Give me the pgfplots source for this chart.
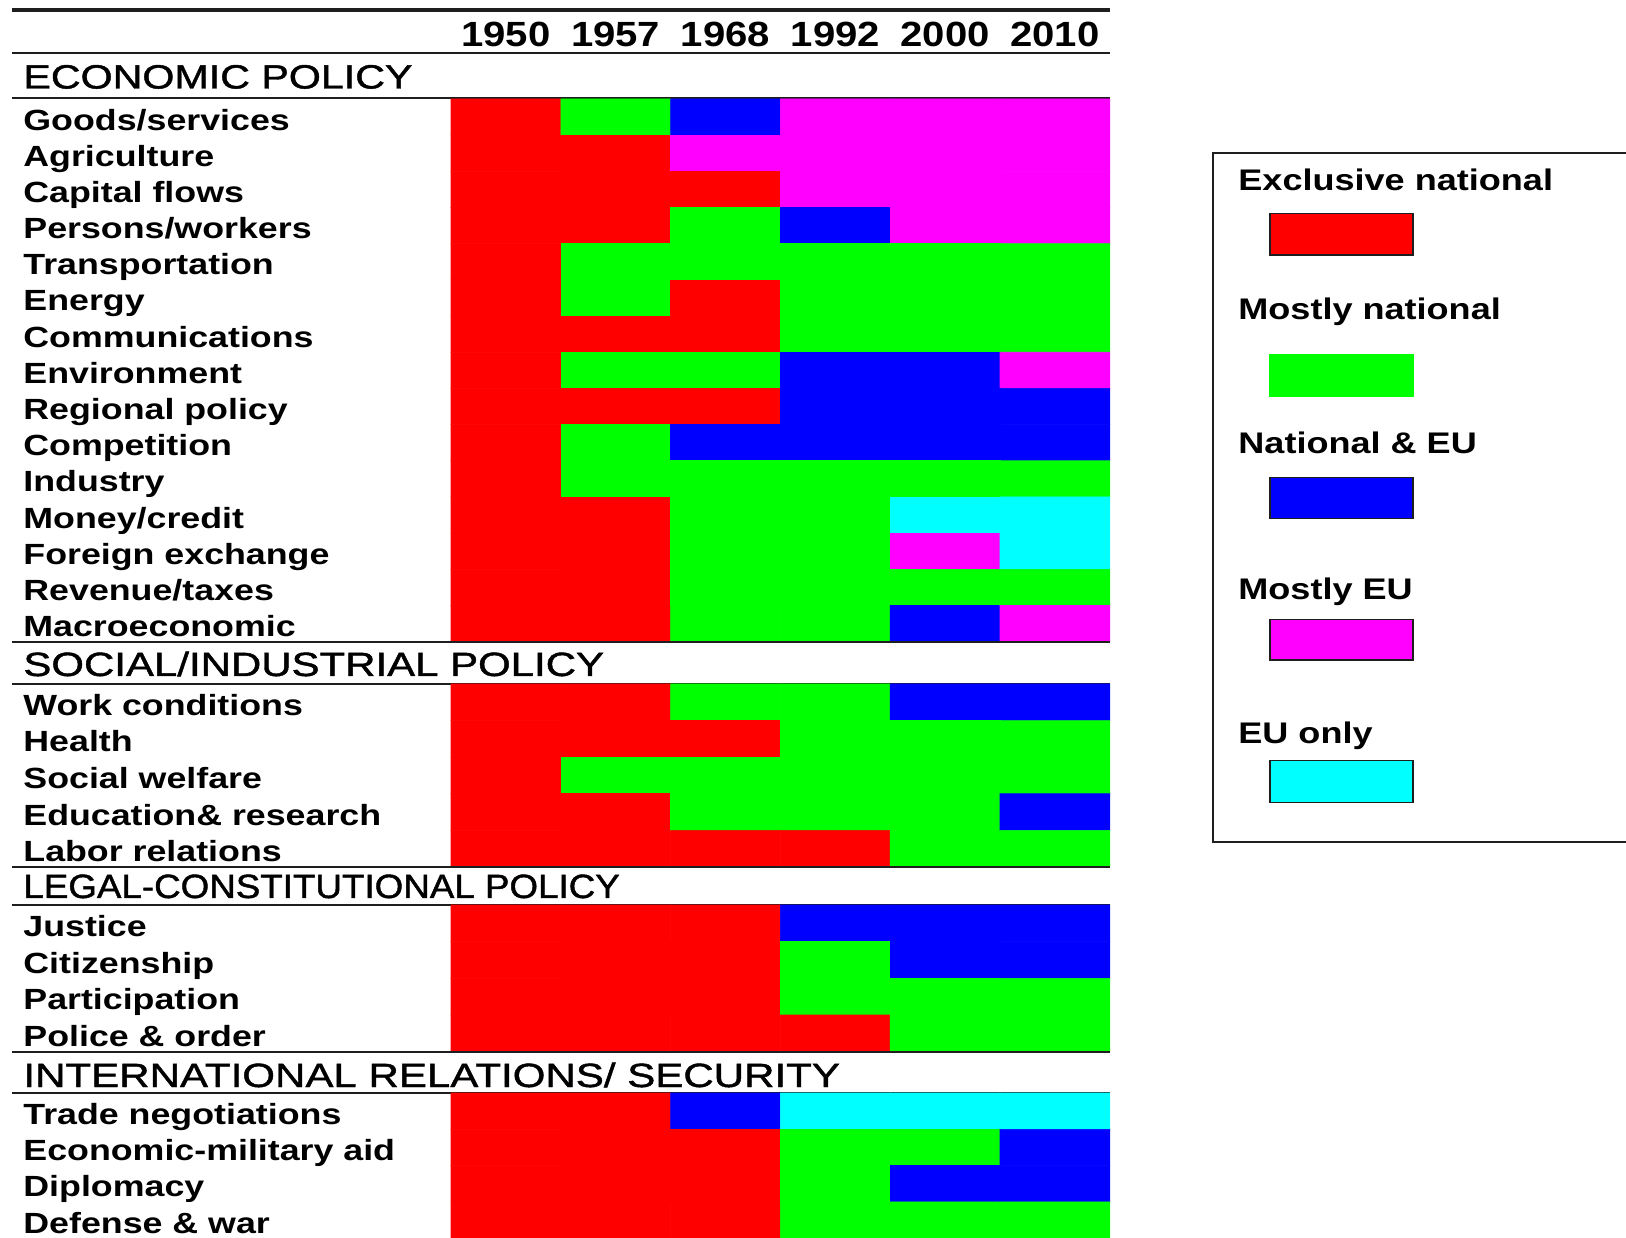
\documentclass[border=0pt]{standalone}
\usepackage{pgfplots}
\pgfplotsset{compat=1.18}
\usepackage{fontspec}
\setmainfont{Liberation Sans}
\newfontfamily\labfont{Liberation Sans}[FakeStretch=1.225]
\newfontfamily\legfont{Liberation Sans}[FakeStretch=1.21]
\newfontfamily\hdrEfont{Liberation Sans}[FakeStretch=1.226, FakeBold=1.3]
\newfontfamily\hdrSfont{Liberation Sans}[FakeStretch=1.249, FakeBold=1.3]
\newfontfamily\hdrLfont{Liberation Sans}[FakeStretch=1.094, FakeBold=1.3]
\newfontfamily\hdrIfont{Liberation Sans}[FakeStretch=1.252, FakeBold=1.3]
\newfontfamily\yrfont{Liberation Sans}[FakeStretch=1.145]
\newcommand\lab{\labfont\bfseries\fontsize{14.6pt}{16pt}\selectfont}
\newcommand\hsz{\fontsize{16.8pt}{18pt}\selectfont}
\newcommand\yr{\yrfont\bfseries\fontsize{17.5pt}{19pt}\selectfont}
\newcommand\leg{\legfont\bfseries\fontsize{14.9pt}{16pt}\selectfont}
\definecolor{cR}{RGB}{255,0,0}
\definecolor{cG}{RGB}{0,255,0}
\definecolor{cB}{RGB}{0,0,255}
\definecolor{cM}{RGB}{255,0,255}
\definecolor{cC}{RGB}{0,255,255}
\definecolor{ln}{RGB}{30,30,30}
\begin{document}
\begin{tikzpicture}
\begin{axis}[name=ax, scale only axis, width=813pt, height=618.5pt,
  xmin=0, xmax=1626, ymin=-1237, ymax=0, enlargelimits=false,
  axis line style={draw=none}, major tick length=0pt, tick style={draw=none},
  xtick={505.9,615.7,725.5,835.3,945.1,1054.9},
  xticklabels={1950,1957,1968,1992,2000,2010},
  xticklabel pos=upper,
  xticklabel style={anchor=base, yshift=-23.35pt, inner sep=0pt, font=\yr},
  ytick={-117.09,-153.27,-189.45,-225.63,-261.81,-297.99,-334.17,-370.35,-406.53,-442.71,-478.89,-515.07,-551.25,-587.43,-623.61,
         -702.3,-738.9,-775.5,-812.1,-848.7,
         -923.34,-960.01,-996.69,-1033.36,
         -1111.15,-1147.45,-1183.75,-1220.05},
  yticklabels={Goods/services,Agriculture,Capital flows,Persons/workers,Transportation,Energy,Communications,Environment,Regional policy,Competition,Industry,Money/credit,Foreign exchange,Revenue/taxes,Macroeconomic,
    Work conditions,Health,Social welfare,Education\& research,Labor relations,
    Justice,Citizenship,Participation,Police \& order,
    Trade negotiations,Economic-military aid,Diplomacy,Defense \& war},
  yticklabel style={anchor=base west, inner sep=0pt, xshift=11.5pt, yshift=-6.5pt, font=\lab},
  colormap={eu}{rgb255=(255,0,0) rgb255=(0,255,0) rgb255=(0,0,255) rgb255=(255,0,255) rgb255=(0,255,255)},
  colormap access=direct,
]
% lines above the grids
\draw[ln, line width=2pt] (axis cs:12,-10) -- (axis cs:1110,-10);
\draw[ln, line width=1pt] (axis cs:12,-53.5) -- (axis cs:1110,-53.5);
\draw[ln, line width=1pt] (axis cs:12,-98.5) -- (axis cs:1110,-98.5);
\draw[ln, line width=1pt] (axis cs:12,-683.8) -- (axis cs:1110,-683.8);
\draw[ln, line width=1pt] (axis cs:12,-905) -- (axis cs:1110,-905);
\draw[ln, line width=1pt] (axis cs:12,-1093) -- (axis cs:1110,-1093);

% ECONOMIC POLICY  (0 excl. national, 1 mostly national, 2 national & EU, 3 mostly EU, 4 EU only)
\addplot[matrix plot*, mesh/cols=6, point meta=explicit, draw=mapped color, line width=0.3pt]
 table[row sep=\\, x expr=451+109.8*(\thisrow{c}+0.5), y expr=-(99+36.18*(\thisrow{r}+0.5)), meta=v]{
 c r v\\
 0 0 0\\ 1 0 1\\ 2 0 2\\ 3 0 3\\ 4 0 3\\ 5 0 3\\
 0 1 0\\ 1 1 0\\ 2 1 3\\ 3 1 3\\ 4 1 3\\ 5 1 3\\
 0 2 0\\ 1 2 0\\ 2 2 0\\ 3 2 3\\ 4 2 3\\ 5 2 3\\
 0 3 0\\ 1 3 0\\ 2 3 1\\ 3 3 2\\ 4 3 3\\ 5 3 3\\
 0 4 0\\ 1 4 1\\ 2 4 1\\ 3 4 1\\ 4 4 1\\ 5 4 1\\
 0 5 0\\ 1 5 1\\ 2 5 0\\ 3 5 1\\ 4 5 1\\ 5 5 1\\
 0 6 0\\ 1 6 0\\ 2 6 0\\ 3 6 1\\ 4 6 1\\ 5 6 1\\
 0 7 0\\ 1 7 1\\ 2 7 1\\ 3 7 2\\ 4 7 2\\ 5 7 3\\
 0 8 0\\ 1 8 0\\ 2 8 0\\ 3 8 2\\ 4 8 2\\ 5 8 2\\
 0 9 0\\ 1 9 1\\ 2 9 2\\ 3 9 2\\ 4 9 2\\ 5 9 2\\
 0 10 0\\ 1 10 1\\ 2 10 1\\ 3 10 1\\ 4 10 1\\ 5 10 1\\
 0 11 0\\ 1 11 0\\ 2 11 1\\ 3 11 1\\ 4 11 4\\ 5 11 4\\
 0 12 0\\ 1 12 0\\ 2 12 1\\ 3 12 1\\ 4 12 3\\ 5 12 4\\
 0 13 0\\ 1 13 0\\ 2 13 1\\ 3 13 1\\ 4 13 1\\ 5 13 1\\
 0 14 0\\ 1 14 0\\ 2 14 1\\ 3 14 1\\ 4 14 2\\ 5 14 3\\
 };
% SOCIAL/INDUSTRIAL POLICY
\addplot[matrix plot*, mesh/cols=6, point meta=explicit, draw=mapped color, line width=0.3pt]
 table[row sep=\\, x expr=451+109.8*(\thisrow{c}+0.5), y expr=-(684+36.6*(\thisrow{r}+0.5)), meta=v]{
 c r v\\
 0 0 0\\ 1 0 0\\ 2 0 1\\ 3 0 1\\ 4 0 2\\ 5 0 2\\
 0 1 0\\ 1 1 0\\ 2 1 0\\ 3 1 1\\ 4 1 1\\ 5 1 1\\
 0 2 0\\ 1 2 1\\ 2 2 1\\ 3 2 1\\ 4 2 1\\ 5 2 1\\
 0 3 0\\ 1 3 0\\ 2 3 1\\ 3 3 1\\ 4 3 1\\ 5 3 2\\
 0 4 0\\ 1 4 0\\ 2 4 0\\ 3 4 0\\ 4 4 1\\ 5 4 1\\
 };
% LEGAL-CONSTITUTIONAL POLICY
\addplot[matrix plot*, mesh/cols=6, point meta=explicit, draw=mapped color, line width=0.3pt]
 table[row sep=\\, x expr=451+109.8*(\thisrow{c}+0.5), y expr=-(905+36.675*(\thisrow{r}+0.5)), meta=v]{
 c r v\\
 0 0 0\\ 1 0 0\\ 2 0 0\\ 3 0 2\\ 4 0 2\\ 5 0 2\\
 0 1 0\\ 1 1 0\\ 2 1 0\\ 3 1 1\\ 4 1 2\\ 5 1 2\\
 0 2 0\\ 1 2 0\\ 2 2 0\\ 3 2 1\\ 4 2 1\\ 5 2 1\\
 0 3 0\\ 1 3 0\\ 2 3 0\\ 3 3 0\\ 4 3 1\\ 5 3 1\\
 };
% INTERNATIONAL RELATIONS/ SECURITY
\addplot[matrix plot*, mesh/cols=6, point meta=explicit, draw=mapped color, line width=0.3pt]
 table[row sep=\\, x expr=451+109.8*(\thisrow{c}+0.5), y expr=-(1093+36.3*(\thisrow{r}+0.5)), meta=v]{
 c r v\\
 0 0 0\\ 1 0 0\\ 2 0 2\\ 3 0 4\\ 4 0 4\\ 5 0 4\\
 0 1 0\\ 1 1 0\\ 2 1 0\\ 3 1 1\\ 4 1 1\\ 5 1 2\\
 0 2 0\\ 1 2 0\\ 2 2 0\\ 3 2 1\\ 4 2 2\\ 5 2 2\\
 0 3 0\\ 1 3 0\\ 2 3 0\\ 3 3 1\\ 4 3 1\\ 5 3 1\\
 };

% lines below the grids
\draw[ln, line width=1pt] (axis cs:12,-641.7) -- (axis cs:1110,-641.7);
\draw[ln, line width=1pt] (axis cs:12,-867) -- (axis cs:1110,-867);
\draw[ln, line width=1pt] (axis cs:12,-1051.7) -- (axis cs:1110,-1051.7);

% section headers
\node[anchor=base west, inner sep=0pt, font=\hdrEfont\hsz] at (axis cs:23,-88.5) {ECONOMIC POLICY};
\node[anchor=base west, inner sep=0pt, font=\hdrSfont\hsz] at (axis cs:23,-676) {SOCIAL/INDUSTRIAL POLICY};
\node[anchor=base west, inner sep=0pt, font=\hdrLfont\hsz] at (axis cs:23,-898) {LEGAL-CONSTITUTIONAL POLICY};
\node[anchor=base west, inner sep=0pt, font=\hdrIfont\hsz] at (axis cs:23,-1087) {INTERNATIONAL RELATIONS/ SECURITY};

% legend
\draw[ln, line width=1pt] (axis cs:1213.3,-152.7) rectangle (axis cs:1700,-841.7);
\node[anchor=base west, inner sep=0pt, font=\leg] at (axis cs:1238,-190.7) {Exclusive national};
\node[anchor=base west, inner sep=0pt, font=\leg] at (axis cs:1238,-320) {Mostly national};
\node[anchor=base west, inner sep=0pt, font=\leg] at (axis cs:1238,-453.3) {National \& EU};
\node[anchor=base west, inner sep=0pt, font=\leg] at (axis cs:1238,-600) {Mostly EU};
\node[anchor=base west, inner sep=0pt, font=\leg] at (axis cs:1238,-743.3) {EU only};
\filldraw[fill=cR, draw=ln, line width=0.7pt] (axis cs:1270,-213.3) rectangle (axis cs:1413,-255);
\filldraw[fill=cG, draw=cG, line width=0.7pt] (axis cs:1270,-355) rectangle (axis cs:1413,-396.7);
\filldraw[fill=cB, draw=ln, line width=0.7pt] (axis cs:1270,-477.3) rectangle (axis cs:1413,-518.3);
\filldraw[fill=cM, draw=ln, line width=0.7pt] (axis cs:1270,-619.3) rectangle (axis cs:1413,-660);
\filldraw[fill=cC, draw=ln, line width=0.7pt] (axis cs:1270,-760.7) rectangle (axis cs:1413,-802.3);
\end{axis}
\pgfresetboundingbox
\path[use as bounding box] (ax.south west) rectangle (ax.north east);
\end{tikzpicture}
\end{document}
